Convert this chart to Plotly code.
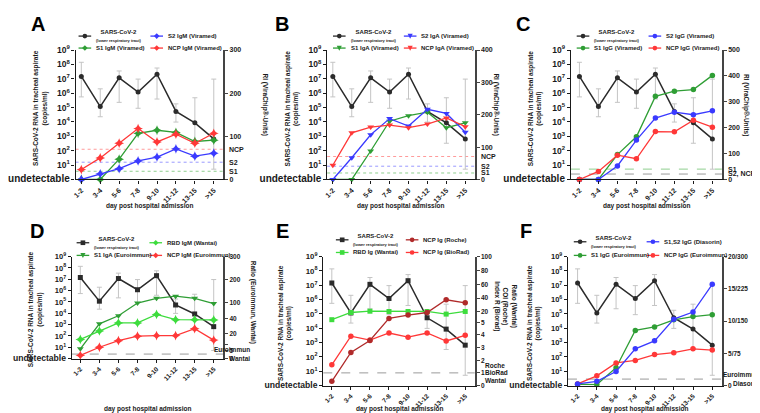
import numpy as np
import plotly.graph_objects as go

W, H = 760, 413
FONT = "Liberation Sans"
INK = "#1a1a1a"

days = ["1-2", "3-4", "5-6", "7-8", "9-10", "11-12", "13-15", ">15"]

# SARS-CoV-2 RNA in tracheal aspirate (copies/ml), 1 = undetectable
rna_median = [1.45e7, 1.17e5, 1.17e7, 1.2e6, 2.1e7, 5.4e4, 8.7e3, 6.6e2]
rna_upper = [1.4e8, 2.0e6, 3.5e7, 9.5e6, 5.6e7, 1.8e5, 4.8e5, 9.5e6]
rna_lower = [5.5e5, 2.3e4, 2.3e5, 8.9e4, 3.9e5, 9.8e3, 3.3e2, 5.2]

# A: IgM, Viramed (RI)
a_s2_igm = [0, 13, 25, 43, 52, 71, 54, 61]
a_s1_igm = [0, 0, 47, 107, 114, 109, 88, 91]
a_ncp_igm = [23, 50, 84, 118, 87, 105, 84, 107]
a_cut_labels = ["NCP", "S2", "S1"]
a_cut_values = [70, 40, 19]

# B: IgA, Viramed (RI)
b_s2_iga = [0, 67, 138, 188, 165, 217, 204, 146]
b_s1_iga = [0, 0, 88, 180, 197, 208, 160, 175]
b_ncp_iga = [44, 144, 162, 168, 160, 171, 190, 163]
b_cut_labels = ["NCP", "S2", "S1"]
b_cut_values = [71, 41, 20]

# C: IgG, Viramed (RI)
c_s2_igg = [0, 0, 52, 152, 237, 260, 250, 265]
c_s1_igg = [0, 0, 96, 165, 321, 341, 347, 402]
c_ncp_igg = [0, 31, 94, 80, 185, 184, 229, 202]
c_cut_labels = ["S1", "S2, NCP"]
c_cut_values = [40, 21]

# D: ratios (Euroimmun, Wantai) on a segmented axis
d_rbd_igm = [14.8, 23.4, 33.9, 33.9, 54.9, 38.2, 38.2, 37.8]
d_s1_iga = [6.5, 32.7, 49.6, 98.7, 119, 128, 119, 97]
d_ncp_igm = [2.0, 7.9, 13.7, 17.7, 18.2, 18.2, 26.4, 14.2]
d_cutoff = 2.8
d_tick_values = [0, 5, 10, 20, 40, 100, 200, 300]
d_tick_labels = ["0", "5", "", "20", "40", "100", "200", "300"]
d_scale_values = [0, 5, 20, 40, 100, 200, 300]
d_scale_pos = [0, 0.71, 2.21, 3.56, 4.93, 6.99, 9]

# E: ratio / COI / index on a segmented axis
e_roche_ncp = [0.33, 2.61, 3.56, 10.6, 15.4, 19.1, 37.6, 33.2]
e_rbd_wantai = [8.7, 19.1, 21.0, 20.6, 20.6, 20.6, 16.8, 20.6]
e_biorad_ncp = [1.64, 3.90, 3.59, 4.15, 3.82, 4.15, 3.52, 3.97]
e_cutoff = 1
e_tick_values = [0, 1, 2, 3, 4, 5, 20, 40, 60, 80, 100]
e_scale_values = [0, 5, 100]
e_scale_pos = [0, 4.42, 9]

# F: Euroimmun ratio (0-20) / Diasorin AU/ml (0-300)
f_diasorin_s1s2 = [3.8, 9.8, 32.6, 85.5, 104, 154.5, 171, 235.5]
f_s1_igg = [0.2, 0.15, 2.77, 8.56, 9.1, 10.2, 10.7, 11.0]
f_ncp_igg = [0.25, 1.5, 3.5, 3.9, 4.8, 5.1, 5.7, 5.5]
f_cutoff = 1.0
f_tick_values = [0, 5, 10, 15, 20]
f_tick_labels = ["0", "5/75", "10/150", "15/225", "20/300"]
f_ratio_max, f_au_max = 20, 300

BLACK = "#2b2b2b"
BLUE = "#3a3aff"
GREEN = "#2f9e35"
RED = "#ff3838"
LGREEN = "#3ddc3d"
DRED = "#b02a2a"

fig = go.Figure()
layout = dict(width=W, height=H, margin=dict(l=0, r=0, t=0, b=0),
              paper_bgcolor="white", plot_bgcolor="white", showlegend=False,
              font=dict(family=FONT, color=INK))
shapes, annotations = [], []


def px(x):
    return x / W


def py(y):
    return 1 - y / H


def tfont(size, color=INK):
    return dict(family=FONT, size=size, color=color, weight="bold")


geo = {
    1: dict(x0=47, x1=199, y0=37, y1=170, xr=[-0.3, 7.5], fl=8.5, fu=10, fs=7),
    2: dict(x0=306, x1=458, y0=37, y1=170, xr=[-0.3, 7.5], fl=8.5, fu=10, fs=7),
    3: dict(x0=557, x1=712.5, y0=37, y1=170, xr=[-0.45, 7.5], fl=8.5, fu=10, fs=7),
    4: dict(x0=43, x1=199, y0=249.3, y1=354, xr=[-0.45, 7.5], fl=7.5, fu=8.6, fs=6.5),
    5: dict(x0=302, x1=458, y0=249.3, y1=381.7, xr=[-0.45, 7.5], fl=7.8, fu=8.6, fs=6.5),
    6: dict(x0=554, x1=712.5, y0=249.3, y1=381.7, xr=[-0.5, 7.5], fl=7.5, fu=8.6, fs=6.5),
}


def setup_panel(k, right):
    g = geo[k]
    xa = "xaxis" if k == 1 else f"xaxis{k}"
    xr = "x" if k == 1 else f"x{k}"
    nl, nr = 2 * k - 1, 2 * k
    yla = "yaxis" if nl == 1 else f"yaxis{nl}"
    ylr = "y" if nl == 1 else f"y{nl}"
    yra, yrr = f"yaxis{nr}", f"y{nr}"
    dx = [px(g["x0"]), px(g["x1"])]
    dy = [py(g["y1"]), py(g["y0"])]
    common = dict(showline=True, ticks="outside", ticklen=3, tickwidth=1.2,
                  showgrid=False, zeroline=False)
    layout[xa] = dict(domain=dx, anchor=ylr, type="category", categoryorder="array",
                      categoryarray=days, range=g["xr"], linecolor=INK, linewidth=1.4,
                      tickcolor=INK, tickangle=-45, tickfont=tfont(g["fs"]), **common)
    undet = f"<span style='font-size:{g['fu']}px'>undetectable</span>"
    layout[yla] = dict(domain=dy, anchor=xr, type="log", range=[0, 9],
                       tickvals=[10 ** i for i in range(10)],
                       ticktext=[undet] + [f"10<sup>{i}</sup>" for i in range(1, 10)],
                       linecolor=INK, linewidth=1.4, tickcolor=INK, tickfont=tfont(g["fl"]),
                       **common)
    layout[yra] = dict(domain=dy, anchor=xr, overlaying=ylr, side="right",
                       linecolor="#444", linewidth=1.8, tickcolor="#444",
                       tickfont=tfont(g["fs"]), **common, **right)
    return xr, ylr, yrr


def add_rna(xr, yr, symbol):
    fig.add_trace(go.Scatter(
        x=days, y=rna_median, xaxis=xr, yaxis=yr, mode="lines+markers",
        line=dict(color=BLACK, width=1.5),
        marker=dict(symbol=symbol, size=5, color=BLACK),
        error_y=dict(type="data", symmetric=False,
                     array=[u - m for u, m in zip(rna_upper, rna_median)],
                     arrayminus=[m - l for m, l in zip(rna_median, rna_lower)],
                     color="#c4c4c4", thickness=1, width=2.5),
        cliponaxis=False))


def add_ab(xr, yr, y, color, symbol, size=6):
    fig.add_trace(go.Scatter(
        x=days, y=y, xaxis=xr, yaxis=yr, mode="lines+markers",
        line=dict(color=color, width=1.3),
        marker=dict(symbol=symbol, size=size, color=color, line=dict(width=0)),
        cliponaxis=False))


def cut_line(xr, yrr, v, color, dash="dot"):
    shapes.append(dict(type="line", xref=f"{xr} domain", x0=0, x1=1, yref=yrr, y0=v, y1=v,
                       line=dict(color=color, width=1, dash=dash), layer="below"))


def cut_label(k, yrr, v, text, xoff=4, anchor="left", yshift=0, size=7):
    annotations.append(dict(text=text, xref="paper", x=px(geo[k]["x1"] + xoff), xanchor=anchor,
                            yref=yrr, y=v, yanchor="middle", yshift=yshift, showarrow=False,
                            font=tfont(size)))


def marker_shape(cx, cy, sym, color, s=2.4):
    if sym == "circle":
        return dict(type="circle", xref="paper", yref="paper", x0=px(cx - s), x1=px(cx + s),
                    y0=py(cy + s), y1=py(cy - s), fillcolor=color, line=dict(width=0))
    if sym == "square":
        return dict(type="rect", xref="paper", yref="paper", x0=px(cx - s), x1=px(cx + s),
                    y0=py(cy + s), y1=py(cy - s), fillcolor=color, line=dict(width=0))
    if sym == "triangle-down":
        pts = [(cx - s * 1.1, cy - s), (cx + s * 1.1, cy - s), (cx, cy + s * 1.1)]
    else:
        pts = [(cx, cy - s * 1.2), (cx + s * 1.2, cy), (cx, cy + s * 1.2), (cx - s * 1.2, cy)]
    path = "M" + " L".join(f"{px(a):.5f},{py(b):.5f}" for a, b in pts) + " Z"
    return dict(type="path", xref="paper", yref="paper", path=path, fillcolor=color,
                line=dict(width=0))


def legend_entry(x0, y, color, sym, text):
    shapes.append(dict(type="line", xref="paper", yref="paper", x0=px(x0), x1=px(x0 + 13),
                       y0=py(y), y1=py(y), line=dict(color=color, width=1.3)))
    shapes.append(marker_shape(x0 + 6.5, y, sym, color))
    annotations.append(dict(text=text, xref="paper", yref="paper", x=px(x0 + 16), y=py(y),
                            xanchor="left", yanchor="middle", showarrow=False,
                            font=tfont(6)))


SARS_LEG = "SARS-CoV-2<br><span style='font-size:4px'>(lower respiratory tract)</span>"


def centered(text, x, y, size, angle=0, color=INK):
    annotations.append(dict(text=text, xref="paper", yref="paper", x=px(x), y=py(y),
                            xanchor="center", yanchor="middle", textangle=angle,
                            showarrow=False, font=tfont(size, color)))


def titles(k, left_x, right_text, right_x, right_y, letter, letter_xy, title_y, left_y):
    g = geo[k]
    centered("SARS-CoV-2 RNA in tracheal aspirate<br>(copies/ml)", left_x, left_y, 6.5, -90)
    centered(right_text, right_x, right_y, 6.5, 90)
    centered("day post hospital admission", (g["x0"] + g["x1"]) / 2, title_y, 6.5)
    centered(letter, letter_xy[0], letter_xy[1], 20, 0, "black")


# ---------------- Panel A ----------------
xr, yl, yr = setup_panel(1, dict(range=[0, 300], tickvals=[0, 100, 200, 300]))
cut_line(xr, yr, a_cut_values[0], "#ff9a9a")
cut_line(xr, yr, a_cut_values[1], "#9a9aff")
cut_line(xr, yr, a_cut_values[2], "#8fcf8f")
add_rna(xr, yl, "circle")
add_ab(xr, yr, a_s1_igm, GREEN, "star-diamond", 7)
add_ab(xr, yr, a_s2_igm, BLUE, "star-diamond", 7)
add_ab(xr, yr, a_ncp_igm, RED, "star-diamond", 7)
for t, v in zip(a_cut_labels, a_cut_values):
    cut_label(1, yr, v, t)
titles(1, 11, "RI (ViraChip®-Units)", 242, 93, "A", (8, 10), 197, 97)
legend_entry(50, 22.7, BLACK, "circle", SARS_LEG)
legend_entry(124, 22.7, BLUE, "diamond", "S2 IgM (Viramed)")
legend_entry(50, 35, GREEN, "diamond", "S1 IgM (Viramed)")
legend_entry(124, 35, RED, "diamond", "NCP IgM (Viramed)")

# ---------------- Panel B ----------------
xr, yl, yr = setup_panel(2, dict(range=[0, 400], tickvals=[0, 100, 200, 300, 400]))
cut_line(xr, yr, b_cut_values[0], "#ff9a9a")
cut_line(xr, yr, b_cut_values[1], "#9a9aff")
cut_line(xr, yr, b_cut_values[2], "#8fcf8f")
add_rna(xr, yl, "circle")
add_ab(xr, yr, b_s1_iga, GREEN, "triangle-down")
add_ab(xr, yr, b_s2_iga, BLUE, "triangle-down")
add_ab(xr, yr, b_ncp_iga, RED, "triangle-down")
for t, v in zip(b_cut_labels, b_cut_values):
    cut_label(2, yr, v, t)
titles(2, 270, "RI (ViraChip®-Units)", 480, 93, "B", (259, 10), 197, 97)
legend_entry(312, 22.7, BLACK, "circle", SARS_LEG)
legend_entry(385, 22.7, BLUE, "triangle-down", "S2 IgA (Viramed)")
legend_entry(312, 35, GREEN, "triangle-down", "S1 IgA (Viramed)")
legend_entry(385, 35, RED, "triangle-down", "NCP IgA (Viramed)")

# ---------------- Panel C ----------------
xr, yl, yr = setup_panel(3, dict(range=[0, 500], tickvals=[0, 100, 200, 300, 400, 500]))
cut_line(xr, yr, c_cut_values[0], "#8fcf8f", "dash")
cut_line(xr, yr, c_cut_values[1], "#9a9a9a", "dash")
add_rna(xr, yl, "circle")
add_ab(xr, yr, c_s1_igg, GREEN, "circle", 5.5)
add_ab(xr, yr, c_s2_igg, BLUE, "circle", 5.5)
add_ab(xr, yr, c_ncp_igg, RED, "circle", 5.5)
for t, v in zip(c_cut_labels, c_cut_values):
    cut_label(3, yr, v, t)
titles(3, 520, "RI (ViraChip®-Units)", 738, 93, "C", (508, 10), 197, 97)
legend_entry(563, 22.7, BLACK, "circle", SARS_LEG)
legend_entry(637, 22.7, BLUE, "circle", "S2 IgG (Viramed)")
legend_entry(563, 35, GREEN, "circle", "S1 IgG (Viramed)")
legend_entry(637, 35, RED, "circle", "NCP IgG (Viramed)")


def dmap(v):
    return list(np.interp(v, d_scale_values, d_scale_pos))


def emap(v):
    return list(np.interp(v, e_scale_values, e_scale_pos))


# ---------------- Panel D ----------------
xr, yl, yr = setup_panel(4, dict(range=[0, 9], tickvals=dmap(d_tick_values),
                                 ticktext=d_tick_labels))
cut_line(xr, yr, dmap([d_cutoff])[0], "#9a9a9a", "dash")
add_rna(xr, yl, "square")
add_ab(xr, yr, dmap(d_s1_iga), GREEN, "triangle-down")
add_ab(xr, yr, dmap(d_rbd_igm), LGREEN, "star-diamond", 7)
add_ab(xr, yr, dmap(d_ncp_igm), RED, "star-diamond", 7)
cut_label(4, yr, dmap([d_cutoff])[0], "Euroimmun", xoff=30, anchor="right", yshift=4.5, size=6.5)
cut_label(4, yr, dmap([d_cutoff])[0], "Wantai", xoff=30, anchor="right", yshift=-4.5, size=6.5)
titles(4, 5.5, "Ratio (Euroimmun, Wantai)", 230, 296, "D", (7, 223), 406, 303)
legend_entry(48, 235, BLACK, "square", SARS_LEG)
legend_entry(123, 235, LGREEN, "diamond", "RBD IgM (Wantai)")
legend_entry(48, 248, GREEN, "triangle-down", "S1 IgA (Euroimmun)")
legend_entry(123, 248, RED, "diamond", "NCP IgM (Euroimmun)")

# ---------------- Panel E ----------------
xr, yl, yr = setup_panel(5, dict(range=[0, 9], tickvals=emap(e_tick_values),
                                 ticktext=[str(v) for v in e_tick_values]))
cut_line(xr, yr, emap([e_cutoff])[0], "#9a9a9a", "dash")
add_rna(xr, yl, "square")
add_ab(xr, yr, emap(e_rbd_wantai), LGREEN, "square", 5)
add_ab(xr, yr, emap(e_biorad_ncp), RED, "circle", 5.5)
add_ab(xr, yr, emap(e_roche_ncp), DRED, "circle", 5.5)
ev = emap([e_cutoff])[0]
cut_label(5, yr, ev, "Roche", xoff=9, yshift=7.5, size=6.5)
cut_label(5, yr, ev, "BioRad", xoff=9, yshift=0, size=6.5)
cut_label(5, yr, ev, "Wantai", xoff=9, yshift=-7.5, size=6.5)
titles(5, 262, "Ratio (Wantai)<br>COI (Roche)<br>Index R (Biorad)", 490, 300, "E", (260, 223), 406, 317)
legend_entry(315, 232, BLACK, "square", SARS_LEG)
legend_entry(387, 232, DRED, "circle", "NCP Ig (Roche)")
legend_entry(315, 245, LGREEN, "square", "RBD Ig (Wantai)")
legend_entry(387, 245, RED, "circle", "NCP Ig (BioRad)")

# ---------------- Panel F ----------------
xr, yl, yr = setup_panel(6, dict(range=[0, f_ratio_max], tickvals=f_tick_values,
                                 ticktext=f_tick_labels))
cut_line(xr, yr, f_cutoff, "#9a9a9a", "dash")
add_rna(xr, yl, "circle")
add_ab(xr, yr, f_s1_igg, GREEN, "circle", 5.5)
add_ab(xr, yr, f_ncp_igg, RED, "circle", 5.5)
add_ab(xr, yr, [v * f_ratio_max / f_au_max for v in f_diasorin_s1s2], BLUE, "circle", 5.5)
cut_label(6, yr, f_cutoff, "Euroimmun", xoff=40, anchor="right", yshift=4.5, size=6.5)
cut_label(6, yr, f_cutoff, "Diasorin", xoff=40, anchor="right", yshift=-4.5, size=6.5)
titles(6, 518.5, "Ratio (Euroimmun)/<br>AU/ml (Diasorin)", 753.5, 308, "F", (511, 223), 406, 317)
legend_entry(560, 234, BLACK, "circle", SARS_LEG)
legend_entry(635, 234, BLUE, "circle", "S1,S2 IgG (Diasorin)")
legend_entry(560, 248, GREEN, "circle", "S1 IgG (Euroimmun)")
legend_entry(635, 248, RED, "circle", "NCP IgG (Euroimmun)")

layout["shapes"] = shapes
layout["annotations"] = annotations
fig.update_layout(**layout)
fig.write_html("out.html")
